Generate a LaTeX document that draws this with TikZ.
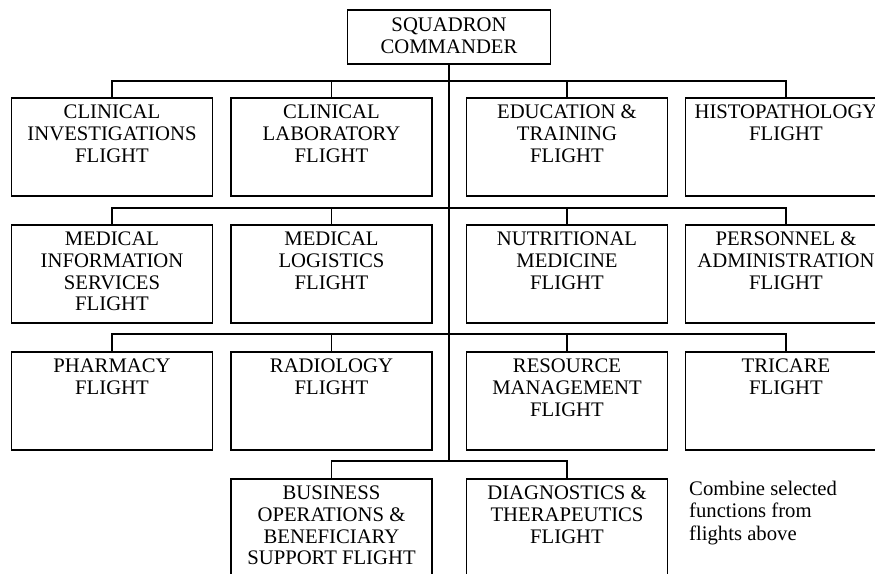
\documentclass[tikz,border=0pt]{standalone}
\usepackage{fontspec}
\setmainfont{Liberation Serif}

% boxed text: width, height, first-baseline drop, lines
\newcommand\boxtxt[4]{\parbox[c][#2][t]{#1}{\centering\rule{0pt}{#3}#4}}
\newcommand\flight[1]{\boxtxt{201pt}{98pt}{20.5pt}{#1}}

\tikzset{
  orgbox/.style={draw, line width=1.5pt, inner sep=0pt, outer sep=0pt,
    anchor=north, font=\fontsize{20.7}{21.8}\selectfont},
  link/.style={line width=1.5pt},
  note/.style={inner sep=0pt, anchor=base west,
    font=\fontsize{20.7}{22.5}\selectfont},
}

\begin{document}
\begin{tikzpicture}[x=1pt,y=1pt]
\path[use as bounding box, clip] (0,0) rectangle (875,-573);

% commander
\node[orgbox] (cmd) at (449,-10) {\boxtxt{203pt}{54pt}{21.5pt}{SQUADRON\\COMMANDER}};

% row 1
\node[orgbox] (r1a) at (112,-98)   {\flight{CLINICAL\\INVESTIGATIONS\\FLIGHT}};
\node[orgbox] (r1b) at (331.5,-98) {\flight{CLINICAL\\LABORATORY\\FLIGHT}};
\node[orgbox] (r1c) at (567,-98)   {\flight{EDUCATION \&\\TRAINING\\FLIGHT}};
\node[orgbox] (r1d) at (786,-98)   {\flight{HISTOPATHOLOGY\\FLIGHT}};

% row 2
\node[orgbox] (r2a) at (112,-225)   {\flight{MEDICAL\\INFORMATION\\SERVICES\\FLIGHT}};
\node[orgbox] (r2b) at (331.5,-225) {\flight{MEDICAL\\LOGISTICS\\FLIGHT}};
\node[orgbox] (r2c) at (567,-225)   {\flight{NUTRITIONAL\\MEDICINE\\FLIGHT}};
\node[orgbox] (r2d) at (786,-225)   {\flight{PERSONNEL \&\\ADMINISTRATION\\FLIGHT}};

% row 3
\node[orgbox] (r3a) at (112,-352)   {\flight{PHARMACY\\FLIGHT}};
\node[orgbox] (r3b) at (331.5,-352) {\flight{RADIOLOGY\\FLIGHT}};
\node[orgbox] (r3c) at (567,-352)   {\flight{RESOURCE\\MANAGEMENT\\FLIGHT}};
\node[orgbox] (r3d) at (786,-352)   {\flight{TRICARE\\FLIGHT}};

% row 4
\node[orgbox] (r4b) at (331.5,-479) {\flight{BUSINESS\\OPERATIONS \&\\BENEFICIARY\\SUPPORT FLIGHT}};
\node[orgbox] (r4c) at (567,-479)   {\flight{DIAGNOSTICS \&\\THERAPEUTICS\\FLIGHT}};

\node[note] (remark) at (689,-495)
  {\parbox[t]{190pt}{\raggedright Combine selected\\functions from\\flights above}};

% junctions on the trunk
\coordinate (j1) at (449,-81);
\coordinate (j2) at (449,-208);
\coordinate (j3) at (449,-334);
\coordinate (j4) at (449,-461);

% trunk
\draw[link] (cmd.south) -- (j4);

% row branches
\foreach \r/\j in {r1/j1, r2/j2, r3/j3} {
  \draw[link] (\r a.north) |- (\j) -| (\r d.north);
  \draw[link] (\r b.north) -- (\r b.north |- \j);
  \draw[link] (\r c.north) -- (\r c.north |- \j);
}
\draw[link] (r4b.north) |- (j4) -| (r4c.north);
\end{tikzpicture}
\end{document}
